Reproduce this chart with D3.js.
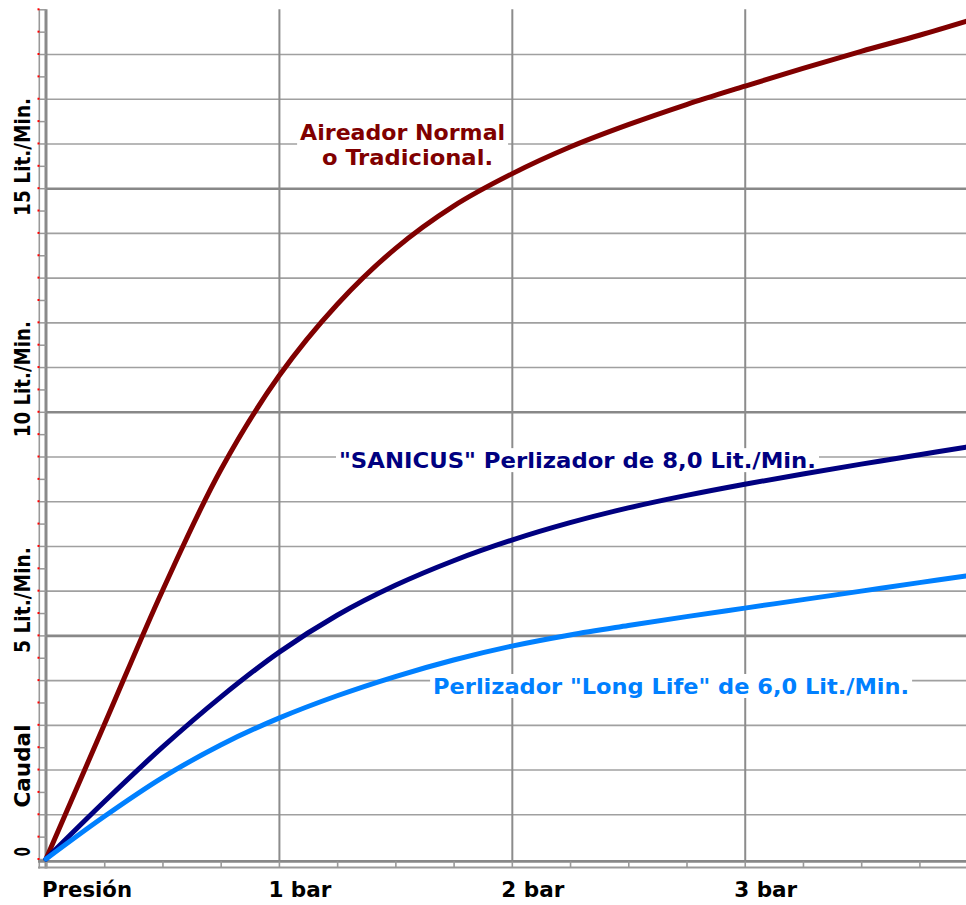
<!DOCTYPE html>
<html>
<head>
<meta charset="utf-8">
<script src="https://cdn.jsdelivr.net/npm/d3@7"></script>
<style>
  body { margin: 0; background: #fff; }
  svg { display: block; background: #fff; }
  text { font-family: "DejaVu Sans Condensed", "DejaVu Sans", sans-serif; font-weight: bold; }
</style>
</head>
<body>
<svg id="chart" width="966" height="905"></svg>
<script>
// presion (bar) and caudal (Lit./Min.)
let pressure = [0, 0.25, 0.5, 0.75, 1, 1.25, 1.5, 1.75, 2, 2.25, 2.5, 2.75, 3, 3.25, 3.5, 3.75, 3.95]
let aireador = [0, 3.0, 6.0, 8.7, 10.8, 12.4, 13.65, 14.6, 15.32, 15.92, 16.42, 16.87, 17.28, 17.68, 18.06, 18.42, 18.73]
let sanicus = [0, 1.28, 2.5, 3.62, 4.62, 5.45, 6.12, 6.67, 7.13, 7.52, 7.85, 8.13, 8.38, 8.61, 8.83, 9.04, 9.21]
let longLife = [0, 0.95, 1.82, 2.55, 3.15, 3.65, 4.08, 4.45, 4.76, 5.01, 5.22, 5.42, 5.61, 5.8, 5.99, 6.18, 6.33]

let xTicks = [1, 2, 3]
let xTickLabels = ['1 bar', '2 bar', '3 bar']
let yLabels = ['0', 'Caudal', '5 Lit./Min.', '10 Lit./Min.', '15 Lit./Min.']
let yLabelAt = [0.16, 2.08, 5.79, 10.73, 15.7]
let yLabelLen = [9, 83, 106, 116, 118]

let svg = d3.select('#chart')

let x = d3.scaleLinear().domain([0, 3.95]).range([46, 966])
let y = d3.scaleLinear().domain([0, 19]).range([859, 9.3])

let axisY = 861.3

// horizontal grid, every 1 Lit./Min., darker every 5
let minor = d3.range(1, 19).filter(v => v % 5 !== 0)
svg.append('g')
    .attr('transform', 'translate(46,0)')
    .call(d3.axisLeft(y).tickValues(minor).tickSize(-920).tickFormat(''))
    .call(g => g.select('.domain').remove())
    .selectAll('line')
    .attr('stroke', '#a0a0a0')
    .attr('stroke-width', 1.6)

svg.append('g')
    .attr('transform', 'translate(46,0)')
    .call(d3.axisLeft(y).tickValues([5, 10, 15]).tickSize(-920).tickFormat(''))
    .call(g => g.select('.domain').remove())
    .selectAll('line')
    .attr('stroke', '#888')
    .attr('stroke-width', 2.6)

// vertical grid at each bar
svg.append('g')
    .attr('transform', 'translate(0,' + axisY + ')')
    .call(d3.axisBottom(x).tickValues(xTicks).tickSize(-(axisY - y(19))).tickFormat(''))
    .call(g => g.select('.domain').remove())
    .selectAll('line')
    .attr('stroke', '#8c8c8c')
    .attr('stroke-width', 2)

// left ladder axis
svg.append('line').attr('x1', 39.3).attr('x2', 39.3).attr('y1', y(19)).attr('y2', 868.5)
    .attr('stroke', '#999').attr('stroke-width', 1.6)
svg.append('line').attr('x1', 46).attr('x2', 46).attr('y1', y(19)).attr('y2', 868.5)
    .attr('stroke', '#8a8a8a').attr('stroke-width', 3)
let halfSteps = d3.range(0, 19.01, 0.5)
svg.append('g')
    .attr('transform', 'translate(46,0)')
    .call(d3.axisLeft(y).tickValues(halfSteps).tickSize(7).tickFormat(''))
    .call(g => g.select('.domain').remove())
    .selectAll('line')
    .attr('stroke', '#999')
    .attr('stroke-width', 1.5)
svg.append('g').selectAll('rect')
    .data(halfSteps)
    .enter()
    .append('rect')
    .attr('x', 37.5)
    .attr('y', d => y(d) - 1)
    .attr('width', 2)
    .attr('height', 2)
    .attr('fill', '#ff0000')

// bottom ladder axis
svg.append('line').attr('x1', 38).attr('x2', 966).attr('y1', axisY).attr('y2', axisY)
    .attr('stroke', '#888').attr('stroke-width', 2.8)
svg.append('line').attr('x1', 38).attr('x2', 966).attr('y1', 867.6).attr('y2', 867.6)
    .attr('stroke', '#999').attr('stroke-width', 2)
svg.append('g')
    .attr('transform', 'translate(0,' + axisY + ')')
    .call(d3.axisBottom(x).tickValues(d3.range(0, 3.96, 0.25)).tickSize(6.3).tickFormat(''))
    .call(g => g.select('.domain').remove())
    .selectAll('line')
    .attr('stroke', '#999')
    .attr('stroke-width', 1.6)

// axis labels
svg.append('text')
    .text('Presión')
    .attr('x', x(0) - 4)
    .attr('y', 897)
    .attr('font-size', 21)
    .attr('textLength', 90)
    .attr('lengthAdjust', 'spacingAndGlyphs')
    .attr('fill', '#000')

svg.append('g').selectAll('text')
    .data(xTicks)
    .enter()
    .append('text')
    .text((d, i) => xTickLabels[i])
    .attr('x', d => x(d) + 21)
    .attr('y', 897)
    .attr('text-anchor', 'middle')
    .attr('font-size', 21)
    .attr('textLength', 63)
    .attr('lengthAdjust', 'spacingAndGlyphs')
    .attr('fill', '#000')

svg.append('g').selectAll('text')
    .data(yLabels)
    .enter()
    .append('text')
    .text(d => d)
    .attr('transform', (d, i) => 'translate(30,' + y(yLabelAt[i]) + ') rotate(-90)')
    .attr('text-anchor', 'middle')
    .attr('font-size', 22)
    .attr('textLength', (d, i) => yLabelLen[i])
    .attr('lengthAdjust', 'spacingAndGlyphs')
    .attr('fill', '#000')

// curve labels sit on white boxes that hide the grid
let boxLayer = svg.append('g')
let curveLayer = svg.append('g')
let labelLayer = svg.append('g')

let addLabel = (lines, color) => {
    let g = labelLayer.append('g')
    lines.forEach(l => {
        g.append('text')
            .text(l.text)
            .attr('x', x(l.p))
            .attr('y', y(l.v))
            .attr('font-size', 22)
            .attr('textLength', l.len)
            .attr('lengthAdjust', 'spacingAndGlyphs')
            .attr('fill', color)
    })
    let b = g.node().getBBox()
    boxLayer.append('rect')
        .attr('x', b.x - 3)
        .attr('y', b.y)
        .attr('width', b.width + 6)
        .attr('height', b.height - 1)
        .attr('fill', '#fff')
}

addLabel([
    {text: 'Aireador Normal', p: 1.091, v: 16.08, len: 205},
    {text: 'o Tradicional.', p: 1.185, v: 15.52, len: 171}
], '#800000')
addLabel([
    {text: '"SANICUS" Perlizador de 8,0 Lit./Min.', p: 1.258, v: 8.74, len: 477}
], '#000080')
addLabel([
    {text: 'Perlizador "Long Life" de 6,0 Lit./Min.', p: 1.662, v: 3.69, len: 476}
], '#0080ff')

// curves
let series = [
    {values: aireador, color: '#800000'},
    {values: sanicus, color: '#000080'},
    {values: longLife, color: '#0080ff'}
]
let line = d3.line()
    .x((d, i) => x(pressure[i]))
    .y(d => y(d))
    .curve(d3.curveCatmullRom.alpha(0.5))

curveLayer.selectAll('path')
    .data(series)
    .enter()
    .append('path')
    .attr('d', d => line(d.values))
    .attr('fill', 'none')
    .attr('stroke', d => d.color)
    .attr('stroke-width', 5)
    .attr('stroke-linecap', 'round')
</script>
</body>
</html>
